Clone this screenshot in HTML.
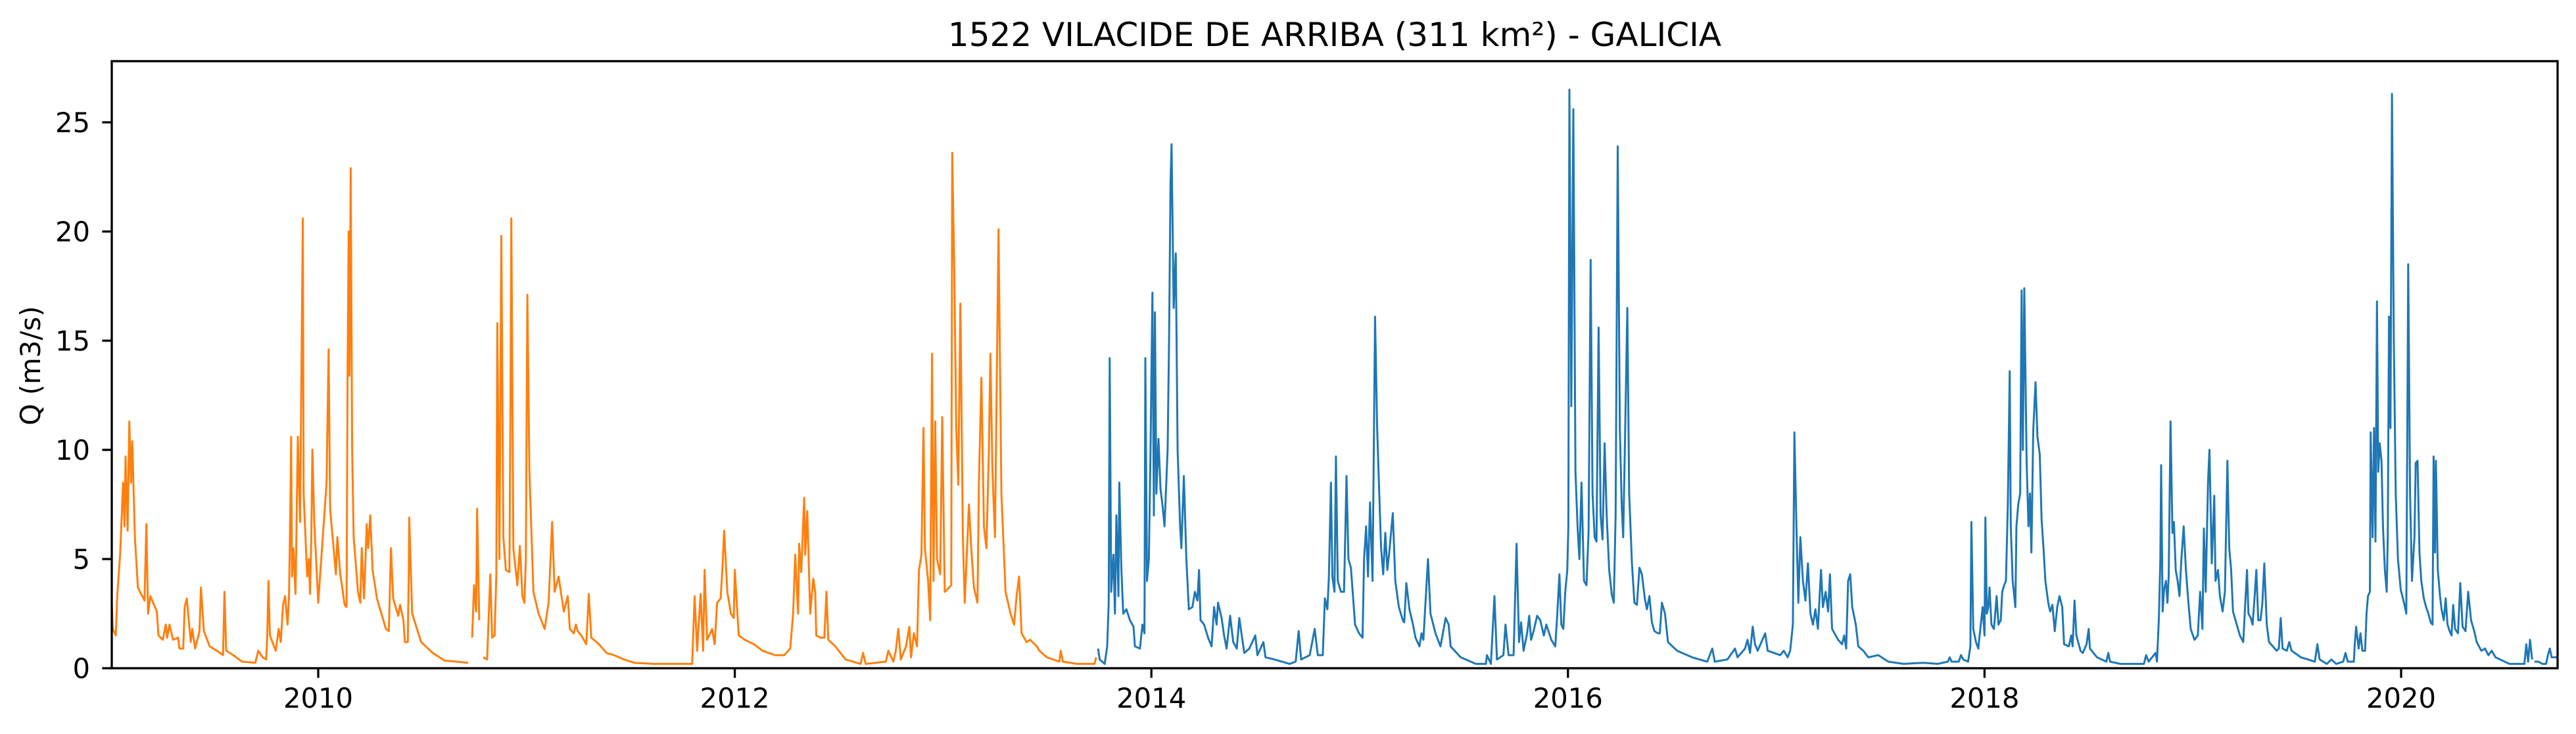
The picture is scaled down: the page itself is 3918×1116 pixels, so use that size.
<!DOCTYPE html>
<html><head><meta charset="utf-8"><style>
html,body{margin:0;padding:0;background:#fff;}
svg{display:block;font-family:"DejaVu Sans","Liberation Sans",sans-serif;}
</style></head><body>
<svg id="chart" width="3918" height="1116" viewBox="0 0 3918 1116" xmlns="http://www.w3.org/2000/svg">
<rect x="0" y="0" width="3918" height="1116" fill="#fff"/>
<text x="2030" y="70" font-size="50" text-anchor="middle">1522 VILACIDE DE ARRIBA (311 km²) - GALICIA</text>
<text transform="translate(61,556) rotate(-90)" font-size="41.7" text-anchor="middle">Q (m3/s)</text>
<g id="plot"></g>
<g id="axes"></g>
</svg>
<script>
const xTicks = [2010, 2012, 2014, 2016, 2018, 2020];
const yTicks = [0, 5, 10, 15, 20, 25];
// Historical (orange) series: [decimal year, Q]; null = gap
const orangeSeries = [
[2009.004,4.0],[2009.014,1.8],[2009.028,1.5],[2009.035,3.3],[2009.049,5.2],[2009.063,8.5],[2009.070,6.5],[2009.075,9.7],[2009.085,6.3],[2009.093,11.3],[2009.101,8.5],[2009.107,10.4],[2009.120,6.0],[2009.134,3.7],[2009.155,3.3],[2009.166,3.1],[2009.175,6.6],[2009.183,2.5],[2009.194,3.3],[2009.225,2.6],[2009.233,1.5],[2009.254,1.3],[2009.268,2.0],[2009.275,1.4],[2009.286,2.0],[2009.303,1.3],[2009.327,1.4],[2009.334,0.9],[2009.352,0.9],[2009.359,2.8],[2009.369,3.2],[2009.388,1.2],[2009.395,1.8],[2009.409,0.9],[2009.430,1.7],[2009.437,3.7],[2009.451,1.7],[2009.479,1.0],[2009.514,0.8],[2009.543,0.6],[2009.550,3.5],[2009.558,0.8],[2009.592,0.6],[2009.634,0.3],[2009.698,0.25],[2009.712,0.8],[2009.733,0.5],[2009.750,0.4],[2009.755,1.4],[2009.761,4.0],[2009.768,1.5],[2009.796,0.8],[2009.810,1.8],[2009.820,1.2],[2009.831,2.9],[2009.841,3.3],[2009.853,2.0],[2009.860,3.3],[2009.867,8.0],[2009.870,10.6],[2009.874,4.2],[2009.881,5.5],[2009.891,3.4],[2009.902,10.6],[2009.913,6.7],[2009.926,20.6],[2009.930,8.0],[2009.947,4.2],[2009.955,5.0],[2009.961,3.4],[2009.967,6.0],[2009.972,10.0],[2009.981,6.7],[2010.000,3.0],[2010.040,8.5],[2010.050,14.6],[2010.057,7.3],[2010.071,5.8],[2010.085,4.3],[2010.092,6.0],[2010.106,4.3],[2010.127,2.9],[2010.136,2.8],[2010.141,13.8],[2010.146,20.0],[2010.150,13.4],[2010.156,22.9],[2010.163,10.0],[2010.170,6.0],[2010.191,3.5],[2010.202,3.0],[2010.209,5.5],[2010.220,3.2],[2010.233,6.6],[2010.240,5.5],[2010.250,7.0],[2010.261,4.5],[2010.282,3.2],[2010.297,2.7],[2010.325,1.8],[2010.339,1.7],[2010.349,5.5],[2010.360,3.2],[2010.384,2.4],[2010.393,2.9],[2010.409,2.2],[2010.416,1.2],[2010.430,1.2],[2010.435,4.5],[2010.437,6.9],[2010.451,2.5],[2010.494,1.2],[2010.550,0.7],[2010.607,0.35],[2010.663,0.3],[2010.720,0.25],[2010.725,null],
[2010.739,1.4],[2010.748,3.8],[2010.758,2.6],[2010.763,7.3],[2010.773,2.2],[2010.780,null],
[2010.792,0.5],[2010.811,0.4],[2010.826,4.3],[2010.835,1.4],[2010.847,1.5],[2010.855,4.3],[2010.860,15.8],[2010.870,5.0],[2010.879,19.8],[2010.889,6.0],[2010.901,4.5],[2010.918,4.4],[2010.923,12.0],[2010.927,20.6],[2010.937,5.5],[2010.956,3.8],[2010.968,5.6],[2010.980,3.3],[2010.990,3.0],[2010.997,5.0],[2011.004,17.1],[2011.014,9.0],[2011.033,3.5],[2011.058,2.5],[2011.087,1.8],[2011.106,3.0],[2011.123,6.7],[2011.135,3.5],[2011.154,4.2],[2011.179,2.6],[2011.198,3.3],[2011.208,1.8],[2011.227,1.6],[2011.237,2.0],[2011.246,1.7],[2011.263,1.5],[2011.287,1.1],[2011.299,3.4],[2011.311,1.4],[2011.348,1.1],[2011.384,0.7],[2011.420,0.6],[2011.468,0.4],[2011.517,0.25],[2011.613,0.2],[2011.795,0.2],[2011.807,3.3],[2011.819,0.8],[2011.836,3.4],[2011.848,0.8],[2011.855,4.5],[2011.867,1.3],[2011.891,1.8],[2011.903,1.1],[2011.915,3.0],[2011.932,3.2],[2011.940,4.5],[2011.949,6.3],[2011.964,3.5],[2011.981,2.5],[2011.995,2.3],[2012.000,4.5],[2012.019,1.5],[2012.048,1.3],[2012.092,1.1],[2012.133,0.8],[2012.193,0.6],[2012.237,0.6],[2012.266,0.9],[2012.280,2.5],[2012.290,5.2],[2012.304,2.5],[2012.309,5.7],[2012.319,4.4],[2012.333,7.8],[2012.338,5.2],[2012.348,7.2],[2012.362,2.5],[2012.377,4.1],[2012.386,3.5],[2012.391,1.5],[2012.411,1.4],[2012.430,1.4],[2012.440,3.5],[2012.449,1.3],[2012.483,1.0],[2012.532,0.4],[2012.604,0.2],[2012.616,0.7],[2012.628,0.2],[2012.725,0.3],[2012.737,0.8],[2012.761,0.3],[2012.773,0.8],[2012.785,1.8],[2012.797,0.4],[2012.822,1.0],[2012.838,1.9],[2012.846,0.5],[2012.860,1.6],[2012.875,1.0],[2012.884,4.5],[2012.896,5.2],[2012.906,11.0],[2012.913,5.5],[2012.928,4.0],[2012.938,2.2],[2012.947,14.4],[2012.954,4.0],[2012.962,11.3],[2012.971,5.0],[2012.986,4.3],[2012.996,11.5],[2013.008,3.5],[2013.020,3.6],[2013.039,3.8],[2013.044,23.6],[2013.054,18.0],[2013.063,11.0],[2013.073,8.4],[2013.083,16.7],[2013.095,6.0],[2013.104,3.0],[2013.124,7.5],[2013.135,5.5],[2013.148,3.7],[2013.165,3.0],[2013.172,8.5],[2013.184,13.3],[2013.196,6.5],[2013.208,5.5],[2013.220,10.0],[2013.227,14.4],[2013.237,9.0],[2013.249,6.0],[2013.266,20.1],[2013.280,8.0],[2013.300,3.5],[2013.324,2.5],[2013.341,2.0],[2013.353,3.3],[2013.365,4.2],[2013.377,1.6],[2013.401,1.2],[2013.418,1.3],[2013.450,1.0],[2013.462,0.8],[2013.498,0.5],[2013.558,0.3],[2013.565,0.8],[2013.575,0.3],[2013.643,0.2],[2013.727,0.2],[2013.735,0.5]
];
// Recent (blue) series
const blueSeries = [
[2013.744,0.9],[2013.752,0.4],[2013.776,0.2],[2013.788,1.0],[2013.795,3.0],[2013.800,14.2],[2013.807,3.5],[2013.818,5.2],[2013.825,2.5],[2013.832,7.0],[2013.842,3.3],[2013.846,8.5],[2013.856,4.5],[2013.865,2.5],[2013.880,2.7],[2013.897,2.2],[2013.914,1.9],[2013.921,1.0],[2013.945,0.9],[2013.957,2.0],[2013.967,1.6],[2013.971,14.2],[2013.979,4.0],[2013.988,5.0],[2013.996,10.0],[2014.005,17.2],[2014.012,7.0],[2014.017,16.3],[2014.024,8.0],[2014.034,10.5],[2014.044,8.2],[2014.053,7.5],[2014.063,6.5],[2014.078,10.0],[2014.085,15.0],[2014.092,22.2],[2014.097,24.0],[2014.107,16.5],[2014.117,19.0],[2014.126,10.0],[2014.138,6.5],[2014.144,5.5],[2014.156,8.8],[2014.168,5.0],[2014.180,2.7],[2014.197,2.8],[2014.209,3.5],[2014.221,3.1],[2014.229,4.5],[2014.236,2.2],[2014.253,2.0],[2014.272,1.4],[2014.289,1.0],[2014.301,2.8],[2014.313,2.0],[2014.320,3.0],[2014.337,2.3],[2014.349,1.5],[2014.361,0.9],[2014.378,2.4],[2014.393,1.2],[2014.410,0.9],[2014.422,2.3],[2014.446,0.7],[2014.470,0.9],[2014.499,1.5],[2014.509,0.6],[2014.538,1.2],[2014.548,0.5],[2014.591,0.4],[2014.664,0.2],[2014.693,0.3],[2014.707,1.7],[2014.719,0.4],[2014.760,0.6],[2014.784,1.8],[2014.799,0.6],[2014.823,0.6],[2014.833,3.2],[2014.845,2.7],[2014.852,4.1],[2014.862,8.5],[2014.869,4.2],[2014.879,3.5],[2014.886,9.7],[2014.895,4.0],[2014.910,3.5],[2014.925,3.5],[2014.937,8.8],[2014.946,5.0],[2014.958,4.6],[2014.978,2.0],[2014.997,1.6],[2015.014,1.4],[2015.021,5.0],[2015.031,6.5],[2015.040,4.2],[2015.050,7.6],[2015.062,4.0],[2015.074,16.1],[2015.084,11.0],[2015.094,8.0],[2015.103,5.5],[2015.113,4.3],[2015.123,6.2],[2015.133,4.5],[2015.142,5.3],[2015.159,7.1],[2015.171,4.0],[2015.188,2.8],[2015.207,2.2],[2015.214,2.1],[2015.224,3.9],[2015.239,2.7],[2015.256,2.0],[2015.268,1.4],[2015.287,1.0],[2015.297,1.6],[2015.306,1.3],[2015.316,3.0],[2015.328,5.0],[2015.340,2.5],[2015.364,1.6],[2015.388,1.0],[2015.413,2.3],[2015.427,2.0],[2015.437,1.0],[2015.485,0.5],[2015.558,0.2],[2015.606,0.2],[2015.611,0.6],[2015.630,0.2],[2015.647,3.3],[2015.659,0.4],[2015.690,0.6],[2015.700,2.0],[2015.715,0.6],[2015.739,0.6],[2015.753,5.7],[2015.765,1.2],[2015.775,2.1],[2015.787,0.8],[2015.804,1.6],[2015.814,2.4],[2015.823,1.3],[2015.835,1.7],[2015.852,2.4],[2015.867,2.2],[2015.884,1.5],[2015.896,2.0],[2015.920,1.3],[2015.939,1.0],[2015.949,2.5],[2015.959,4.3],[2015.968,2.0],[2015.978,1.8],[2015.987,3.5],[2015.997,4.5],[2016.002,6.5],[2016.007,26.5],[2016.016,12.0],[2016.026,25.6],[2016.036,9.0],[2016.046,6.5],[2016.055,5.0],[2016.065,8.5],[2016.077,4.0],[2016.089,3.8],[2016.099,6.3],[2016.109,18.7],[2016.118,8.0],[2016.128,6.0],[2016.137,5.8],[2016.147,15.6],[2016.157,7.0],[2016.166,5.9],[2016.176,10.3],[2016.186,7.0],[2016.198,4.5],[2016.210,3.4],[2016.220,3.0],[2016.229,7.0],[2016.239,23.9],[2016.249,11.0],[2016.258,7.5],[2016.265,6.0],[2016.273,10.0],[2016.285,16.5],[2016.294,8.0],[2016.307,4.8],[2016.319,3.0],[2016.331,2.9],[2016.343,4.6],[2016.355,4.3],[2016.369,3.2],[2016.379,2.7],[2016.391,3.3],[2016.403,2.1],[2016.415,1.7],[2016.432,1.6],[2016.441,1.6],[2016.451,3.0],[2016.466,2.5],[2016.480,1.2],[2016.524,0.8],[2016.596,0.5],[2016.669,0.3],[2016.693,0.9],[2016.705,0.3],[2016.765,0.4],[2016.802,0.9],[2016.814,0.5],[2016.850,0.9],[2016.862,1.3],[2016.874,0.7],[2016.887,1.9],[2016.898,1.1],[2016.911,0.8],[2016.947,1.6],[2016.959,0.8],[2017.019,0.6],[2017.036,0.8],[2017.055,0.5],[2017.067,0.8],[2017.080,2.0],[2017.087,10.8],[2017.097,6.5],[2017.106,3.0],[2017.116,6.0],[2017.128,4.0],[2017.140,3.1],[2017.152,4.8],[2017.164,2.5],[2017.176,2.0],[2017.188,2.7],[2017.200,1.8],[2017.215,4.5],[2017.224,2.8],[2017.237,3.5],[2017.249,2.6],[2017.258,4.3],[2017.268,1.8],[2017.297,1.3],[2017.316,1.1],[2017.326,1.5],[2017.336,0.9],[2017.345,4.0],[2017.355,4.3],[2017.365,2.8],[2017.382,2.0],[2017.394,1.0],[2017.418,0.8],[2017.442,0.5],[2017.490,0.6],[2017.538,0.3],[2017.611,0.2],[2017.708,0.25],[2017.775,0.2],[2017.824,0.3],[2017.833,0.5],[2017.842,0.3],[2017.876,0.3],[2017.887,0.6],[2017.898,0.4],[2017.921,0.3],[2017.932,1.0],[2017.937,6.7],[2017.946,1.8],[2017.959,1.2],[2017.970,0.9],[2017.982,2.0],[2017.991,2.8],[2018.000,1.5],[2018.004,6.9],[2018.011,2.5],[2018.018,2.8],[2018.024,3.7],[2018.033,2.0],[2018.045,1.8],[2018.058,3.3],[2018.067,2.0],[2018.078,2.2],[2018.085,3.5],[2018.094,3.8],[2018.103,4.0],[2018.112,7.6],[2018.121,13.6],[2018.126,6.5],[2018.135,4.0],[2018.148,2.8],[2018.153,6.5],[2018.162,7.5],[2018.171,8.0],[2018.178,17.3],[2018.184,10.0],[2018.191,17.4],[2018.202,9.5],[2018.211,6.5],[2018.218,8.0],[2018.225,5.3],[2018.234,10.9],[2018.245,13.1],[2018.254,10.6],[2018.265,9.8],[2018.274,6.8],[2018.283,5.5],[2018.292,4.0],[2018.306,3.0],[2018.315,2.6],[2018.326,2.9],[2018.337,1.7],[2018.349,2.8],[2018.360,3.3],[2018.373,2.8],[2018.382,1.1],[2018.405,1.0],[2018.416,1.5],[2018.423,1.0],[2018.432,3.1],[2018.441,1.5],[2018.461,0.8],[2018.472,0.7],[2018.490,1.1],[2018.500,1.8],[2018.506,0.9],[2018.540,0.5],[2018.585,0.3],[2018.594,0.7],[2018.603,0.3],[2018.652,0.2],[2018.765,0.2],[2018.776,0.6],[2018.788,0.3],[2018.821,0.7],[2018.828,0.3],[2018.837,2.3],[2018.844,5.0],[2018.848,9.3],[2018.855,2.6],[2018.862,3.6],[2018.871,4.0],[2018.878,3.0],[2018.884,4.2],[2018.893,11.3],[2018.902,6.2],[2018.909,6.7],[2018.918,4.5],[2018.927,4.0],[2018.936,3.3],[2018.945,5.0],[2018.956,6.5],[2018.967,4.5],[2018.979,3.0],[2018.990,1.8],[2019.008,1.3],[2019.024,1.5],[2019.035,3.5],[2019.046,1.8],[2019.053,6.4],[2019.062,3.5],[2019.073,8.5],[2019.080,10.0],[2019.091,4.8],[2019.103,7.9],[2019.109,4.0],[2019.121,4.5],[2019.130,3.3],[2019.143,2.6],[2019.154,3.5],[2019.166,9.5],[2019.175,5.5],[2019.184,4.5],[2019.193,2.6],[2019.211,2.0],[2019.226,1.5],[2019.242,1.2],[2019.260,4.5],[2019.267,2.5],[2019.278,2.3],[2019.287,2.0],[2019.296,3.2],[2019.305,4.5],[2019.314,2.2],[2019.325,2.2],[2019.334,3.0],[2019.343,4.8],[2019.355,2.0],[2019.366,1.2],[2019.384,1.0],[2019.402,0.8],[2019.413,0.9],[2019.422,2.3],[2019.431,0.9],[2019.451,0.8],[2019.463,1.2],[2019.474,0.8],[2019.519,0.5],[2019.553,0.4],[2019.586,0.3],[2019.598,1.1],[2019.609,0.4],[2019.643,0.2],[2019.665,0.4],[2019.688,0.2],[2019.722,0.3],[2019.733,0.7],[2019.744,0.3],[2019.773,0.3],[2019.778,1.2],[2019.784,1.9],[2019.796,0.9],[2019.805,1.6],[2019.814,0.8],[2019.827,0.8],[2019.834,2.5],[2019.841,3.3],[2019.850,3.5],[2019.854,10.8],[2019.863,6.0],[2019.870,11.0],[2019.877,5.8],[2019.884,16.8],[2019.890,9.0],[2019.897,10.3],[2019.906,9.5],[2019.913,6.5],[2019.922,4.5],[2019.931,3.5],[2019.936,6.0],[2019.942,16.1],[2019.949,11.0],[2019.956,26.3],[2019.965,15.0],[2019.974,8.0],[2019.985,5.0],[2019.998,3.6],[2020.014,3.0],[2020.025,2.5],[2020.034,18.5],[2020.043,8.0],[2020.052,4.0],[2020.064,6.0],[2020.070,9.4],[2020.079,9.5],[2020.088,5.3],[2020.097,4.0],[2020.109,3.2],[2020.120,2.8],[2020.131,2.5],[2020.142,2.1],[2020.151,2.0],[2020.156,9.7],[2020.163,5.3],[2020.167,9.5],[2020.176,4.5],[2020.187,3.3],[2020.194,2.7],[2020.205,2.2],[2020.214,3.2],[2020.223,2.0],[2020.233,1.7],[2020.242,1.5],[2020.250,2.9],[2020.259,1.8],[2020.273,1.6],[2020.284,3.9],[2020.295,1.9],[2020.309,1.7],[2020.322,3.5],[2020.336,2.2],[2020.351,1.7],[2020.363,1.2],[2020.385,0.8],[2020.403,0.9],[2020.419,0.6],[2020.435,0.8],[2020.453,0.5],[2020.520,0.2],[2020.592,0.2],[2020.601,1.1],[2020.610,0.3],[2020.619,1.3],[2020.629,0.4],[2020.633,null],[2020.640,0.3],[2020.660,0.3],[2020.678,0.2],[2020.696,0.2],[2020.705,0.6],[2020.714,0.9],[2020.723,0.5],[2020.741,0.5],[2020.760,0.5]
];
const X0 = 170, X1 = 3890, Y0 = 93, Y1 = 1016;
function xScale(t){ return 484 + (t - 2010) * 316.8; }
function yScale(v){ return Y1 - v * 33.2; }
const NS = 'http://www.w3.org/2000/svg';
const plot = document.getElementById('plot');
const axes = document.getElementById('axes');
const defs = document.createElementNS(NS,'defs');
defs.innerHTML = '<clipPath id="clip"><rect x="'+X0+'" y="'+Y0+'" width="'+(X1-X0)+'" height="'+(Y1-Y0)+'"/></clipPath>';
document.getElementById('chart').insertBefore(defs, plot);
plot.setAttribute('clip-path','url(#clip)');
function pathFor(series){
  let d = '', pen = false;
  for (const [t, v] of series){
    if (v === null){ pen = false; continue; }
    d += (pen ? 'L' : 'M') + xScale(t).toFixed(1) + ' ' + yScale(v).toFixed(1);
    pen = true;
  }
  return d;
}
const lo = document.createElementNS(NS,'path');
lo.setAttribute('d', pathFor(orangeSeries));
lo.setAttribute('fill','none'); lo.setAttribute('stroke','#ff7f0e'); lo.setAttribute('stroke-width','3'); lo.setAttribute('stroke-linejoin','round');


plot.appendChild(lo);
const lb = document.createElementNS(NS,'path');
lb.setAttribute('d', pathFor(blueSeries));
lb.setAttribute('fill','none'); lb.setAttribute('stroke','#1f77b4'); lb.setAttribute('stroke-width','3'); lb.setAttribute('stroke-linejoin','round');


plot.appendChild(lb);
const frame = document.createElementNS(NS,'rect');
frame.setAttribute('x',X0); frame.setAttribute('y',Y0); frame.setAttribute('width',X1-X0); frame.setAttribute('height',Y1-Y0);
frame.setAttribute('fill','none'); frame.setAttribute('stroke','#000'); frame.setAttribute('stroke-width','3.3');


axes.appendChild(frame);
for (const t of xTicks){
  const x = xScale(t);
  const tk = document.createElementNS(NS,'line');
  tk.setAttribute('x1',x); tk.setAttribute('x2',x); tk.setAttribute('y1',Y1); tk.setAttribute('y2',Y1+14.6);
  tk.setAttribute('stroke','#000'); tk.setAttribute('stroke-width','3.3');
  
  
  axes.appendChild(tk);
  const lbl = document.createElementNS(NS,'text');
  lbl.setAttribute('x',x); lbl.setAttribute('y',1076); lbl.setAttribute('font-size','41.7'); lbl.setAttribute('text-anchor','middle');
  lbl.textContent = String(t);
  
  
  axes.appendChild(lbl);
}
for (const v of yTicks){
  const y = yScale(v);
  const tk = document.createElementNS(NS,'line');
  tk.setAttribute('x1',X0-14.6); tk.setAttribute('x2',X0); tk.setAttribute('y1',y); tk.setAttribute('y2',y);
  tk.setAttribute('stroke','#000'); tk.setAttribute('stroke-width','3.3');
  
  
  axes.appendChild(tk);
  const lbl = document.createElementNS(NS,'text');
  lbl.setAttribute('x',137); lbl.setAttribute('y',y+15); lbl.setAttribute('font-size','41.7'); lbl.setAttribute('text-anchor','end');
  lbl.textContent = String(v);
  
  
  axes.appendChild(lbl);
}
</script>
</body></html>
